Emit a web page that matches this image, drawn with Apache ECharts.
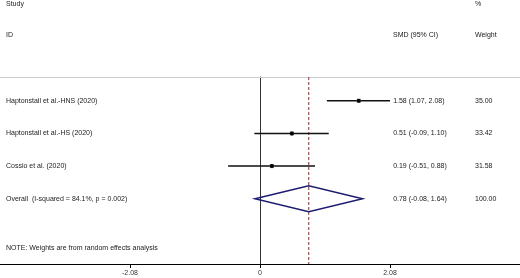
<!DOCTYPE html>
<html>
<head>
<meta charset="utf-8">
<script src="https://cdn.jsdelivr.net/npm/echarts@6/dist/echarts.min.js"></script>
<style>
  html, body { margin: 0; padding: 0; background: #fff; }
  #main { width: 520px; height: 278px; }
</style>
</head>
<body>
<div id="main"></div>
<script>
// study rows
var studies = ['Haptonstall et al.-HNS (2020)', 'Haptonstall et al.-HS (2020)', 'Cossio et al. (2020)']
var smd = [1.58, 0.51, 0.19]
var lower = [1.07, -0.09, -0.51]
var upper = [2.08, 1.10, 0.88]
var weights = ['35.00', '33.42', '31.58']
// pooled estimate
var overallLabel = 'Overall  (I-squared = 84.1%, p = 0.002)'
var overallEst = 0.78
var overallLow = -0.08
var overallHigh = 1.64
var overallWeight = '100.00'
// axis
var tickValues = [-2.08, 0, 2.08]
var xMin = -4.16
var xMax = 4.16
var yMin = 0.27
var yMax = 6.0

var FONT = '7px "Liberation Sans", Arial, sans-serif'
var TXT = '#222'
// text columns in axis units
var colStudy = -4.065
var colSmd = 2.13
var colWeight = 3.44

function fmt (v) {
  return v.toFixed(2)
}

var rows = []
studies.forEach(function (name, i) {
  rows.push([smd[i], lower[i], upper[i], i + 1, i])
})
rows.push([overallEst, overallLow, overallHigh, studies.length + 1, -1])

var myChart = echarts.init(document.getElementById('main'))
var option = {
  animation: false,
  backgroundColor: '#fff',
  grid: {
    left: 0,
    right: 0,
    top: 77,
    bottom: 14,
    containLabel: false,
    outerBoundsMode: 'none'
  },
  xAxis: [
    {
      type: 'value',
      min: xMin,
      max: xMax,
      interval: 2.08,
      position: 'bottom',
      axisLine: { show: true, onZero: false, lineStyle: { color: '#000', width: 1 } },
      axisTick: { show: true, length: 4, customValues: tickValues, lineStyle: { color: '#000' } },
      axisLabel: {
        show: true,
        customValues: tickValues,
        margin: 6,
        color: '#333',
        fontSize: 7,
        fontFamily: 'Liberation Sans',
        formatter: function (v) { return v === 0 ? '0' : fmt(v) }
      },
      splitLine: { show: false }
    },
    {
      type: 'value',
      min: xMin,
      max: xMax,
      position: 'top',
      axisLine: { show: true, onZero: false, lineStyle: { color: '#cfcfcf', width: 1 } },
      axisTick: { show: false },
      axisLabel: { show: false },
      splitLine: { show: false }
    }
  ],
  yAxis: {
    type: 'value',
    inverse: true,
    min: yMin,
    max: yMax,
    axisLine: { show: true, onZero: true, onZeroAxisIndex: 0, lineStyle: { color: '#333', width: 1 } },
    axisTick: { show: false },
    axisLabel: { show: false },
    splitLine: { show: false }
  },
  graphic: [
    { type: 'text', left: 6, top: 1, style: { text: 'Study', font: FONT, fill: TXT } },
    { type: 'text', left: 6, top: 32, style: { text: 'ID', font: FONT, fill: TXT } },
    { type: 'text', left: 393, top: 32, style: { text: 'SMD (95% CI)', font: FONT, fill: TXT } },
    { type: 'text', left: 475, top: 1, style: { text: '%', font: FONT, fill: TXT } },
    { type: 'text', left: 475, top: 32, style: { text: 'Weight', font: FONT, fill: TXT } },
    { type: 'text', left: 6, top: 245, style: { text: 'NOTE: Weights are from random effects analysis', font: FONT, fill: TXT } }
  ],
  series: [
    {
      name: 'pooled',
      type: 'line',
      symbol: 'none',
      silent: true,
      lineStyle: { color: '#9b2a2a', width: 1, type: [3, 2] },
      data: [[overallEst, yMin], [overallEst, yMax]],
      z: 1
    },
    {
      name: 'studies',
      type: 'custom',
      encode: { x: [0, 1, 2], y: 3 },
      data: rows,
      z: 3,
      renderItem: function (params, api) {
        var est = api.value(0)
        var lo = api.value(1)
        var hi = api.value(2)
        var y = api.value(3)
        var idx = api.value(4)
        var pEst = api.coord([est, y])
        var pLo = api.coord([lo, y])
        var pHi = api.coord([hi, y])
        var children = []
        var label, weight
        if (idx >= 0) {
          label = studies[idx]
          weight = weights[idx]
          children.push({
            type: 'line',
            shape: { x1: pLo[0], y1: pLo[1], x2: pHi[0], y2: pHi[1] },
            style: { stroke: '#111', lineWidth: 1.5 }
          })
          children.push({
            type: 'rect',
            shape: { x: pEst[0] - 2, y: pEst[1] - 2, width: 4, height: 4 },
            style: { fill: '#777' }
          })
          children.push({
            type: 'circle',
            shape: { cx: pEst[0], cy: pEst[1], r: 2 },
            style: { fill: '#000' }
          })
        } else {
          label = overallLabel
          weight = overallWeight
          var h = api.size([0, 0.4])[1]
          children.push({
            type: 'polygon',
            shape: { points: [[pLo[0], pLo[1]], [pEst[0], pEst[1] - h], [pHi[0], pHi[1]], [pEst[0], pEst[1] + h]] },
            style: { fill: 'none', stroke: '#1c1c6e', lineWidth: 1.5 }
          })
        }
        var ciText = fmt(est) + ' (' + fmt(lo) + ', ' + fmt(hi) + ')'
        var texts = [[colStudy, label], [colSmd, ciText], [colWeight, weight]]
        texts.forEach(function (t) {
          var p = api.coord([t[0], y])
          children.push({
            type: 'text',
            style: { text: t[1], x: p[0], y: p[1], font: FONT, fill: TXT, align: 'left', verticalAlign: 'middle' }
          })
        })
        return { type: 'group', children: children }
      }
    }
  ]
}
myChart.setOption(option, true)
</script>
</body>
</html>
